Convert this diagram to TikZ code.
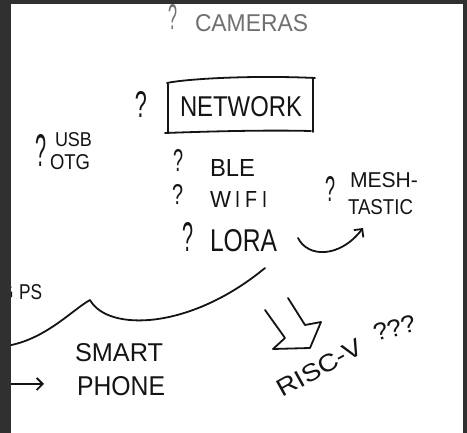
\documentclass[tikz,border=0pt]{standalone}
\usepackage{fontspec}
\usepackage{graphicx}
\setmainfont{Liberation Sans}
\usetikzlibrary{arrows.meta}
\definecolor{ink}{HTML}{141414}
\definecolor{pencil}{HTML}{707070}
\definecolor{framegray}{HTML}{303030}
% text squeezed into a given width and cap height (in pt)
\newcommand{\handtext}[3]{\resizebox{#1pt}{#2pt}{#3}}
\begin{document}
\begin{tikzpicture}[x=1pt,y=1pt,
  txt/.style={inner sep=0pt,outer sep=0pt,anchor=south west,text=ink},
  pen/.style={draw=ink,line width=1.8pt,line cap=round,line join=round},
  barb/.style={-{Straight Barb[length=6pt,width=12pt,line width=1.8pt]}}]
\useasboundingbox (0,0) rectangle (467,-433);
\fill[white] (0,0) rectangle (467,-433);

% top: cameras
\node[txt,text=pencil] (qcam) at (168,-30) {\handtext{9}{25}{?}};
\node[txt,text=pencil] (cameras) at (195,-32) {\handtext{113}{17}{CAMERAS}};

% network, boxed
\node[txt] (qnet) at (135,-118) {\handtext{12}{26}{?}};
\node[txt] (network) at (180,-117) {\handtext{122}{20}{NETWORK}};
\draw[pen] (167,-83) .. controls (185,-79) and (250,-75) .. (315,-78);
\draw[pen] (168,-84) -- (168,-132);
\draw[pen] (313,-79) -- (313,-132);
\draw[pen] (165,-133) .. controls (220,-131) and (270,-130) .. (311,-131);

% usb otg
\node[txt] (qusb) at (35,-167) {\handtext{11}{32}{?}};
\node[txt] (usb) at (55,-147) {\handtext{37}{14}{USB}};
\node[txt] (otg) at (50,-170) {\handtext{40}{15}{OTG}};

% radios
\node[txt] (qble) at (173,-172) {\handtext{10}{22}{?}};
\node[txt] (ble) at (210,-177) {\handtext{45}{17}{BLE}};
\node[txt] (qwifi) at (172,-205) {\handtext{11}{20}{?}};
\node[txt] (wifi) at (210,-208) {\handtext{21}{16}{W}\hspace{4pt}\handtext{5}{16}{I}\hspace{5pt}\handtext{12}{16}{F}\hspace{5pt}\handtext{5}{16}{I}};
\node[txt] (qlora) at (182,-252) {\handtext{11}{29}{?}};
\node[txt] (lora) at (210,-252) {\handtext{67}{22}{LORA}};

% meshtastic
\node[txt] (qmesh) at (325,-202) {\handtext{10}{25}{?}};
\node[txt] (mesh) at (350,-188) {\handtext{68}{15}{MESH-}};
\node[txt] (tastic) at (348,-215) {\handtext{65}{15}{TASTIC}};

% lora -> meshtastic
\coordinate (loraout) at (298,-238);
\coordinate (meshin) at (363,-228);
\draw[pen,barb] (loraout) .. controls (308,-258) and (340,-258) .. (meshin);

% gps (partly under the border) and smartphone
\node[txt] (gps) at (-3,-300) {\handtext{17}{15}{G}\hspace{5pt}\handtext{23}{15}{PS}};
\node[txt] (smart) at (75,-362) {\handtext{88}{18}{SMART}};
\node[txt] (phone) at (77,-396) {\handtext{88}{19}{PHONE}};
\coordinate (phin) at (44,-384);
\coordinate (phfrom) at (6,-384);
\draw[pen,barb] (phfrom) -- (phin);

% brace-like curve under the radios
\coordinate (bl) at (6,-346);
\coordinate (bpeak) at (90,-300);
\coordinate (br) at (265,-268);
\draw[pen] (bl) .. controls (45,-340) and (72,-310) .. (bpeak)
  .. controls (108,-332) and (190,-330) .. (br);

% hollow arrow towards risc-v
\draw[pen] (288,-298) -- (305,-325) -- (321,-322) -- (310,-348)
  -- (273,-349) -- (285,-338) -- (265,-310);

% risc-v
\node[txt,rotate=29] (riscv) at (283,-398) {\handtext{94}{17}{RISC-V}};
\node[txt,rotate=16] (qqq) at (376,-342) {\handtext{43}{17}{???}};

% dark border
\fill[framegray] (0,0) rectangle (11,-433);
\fill[framegray] (0,0) rectangle (467,-4);
\fill[framegray] (463,0) rectangle (467,-433);
\end{tikzpicture}
\end{document}
